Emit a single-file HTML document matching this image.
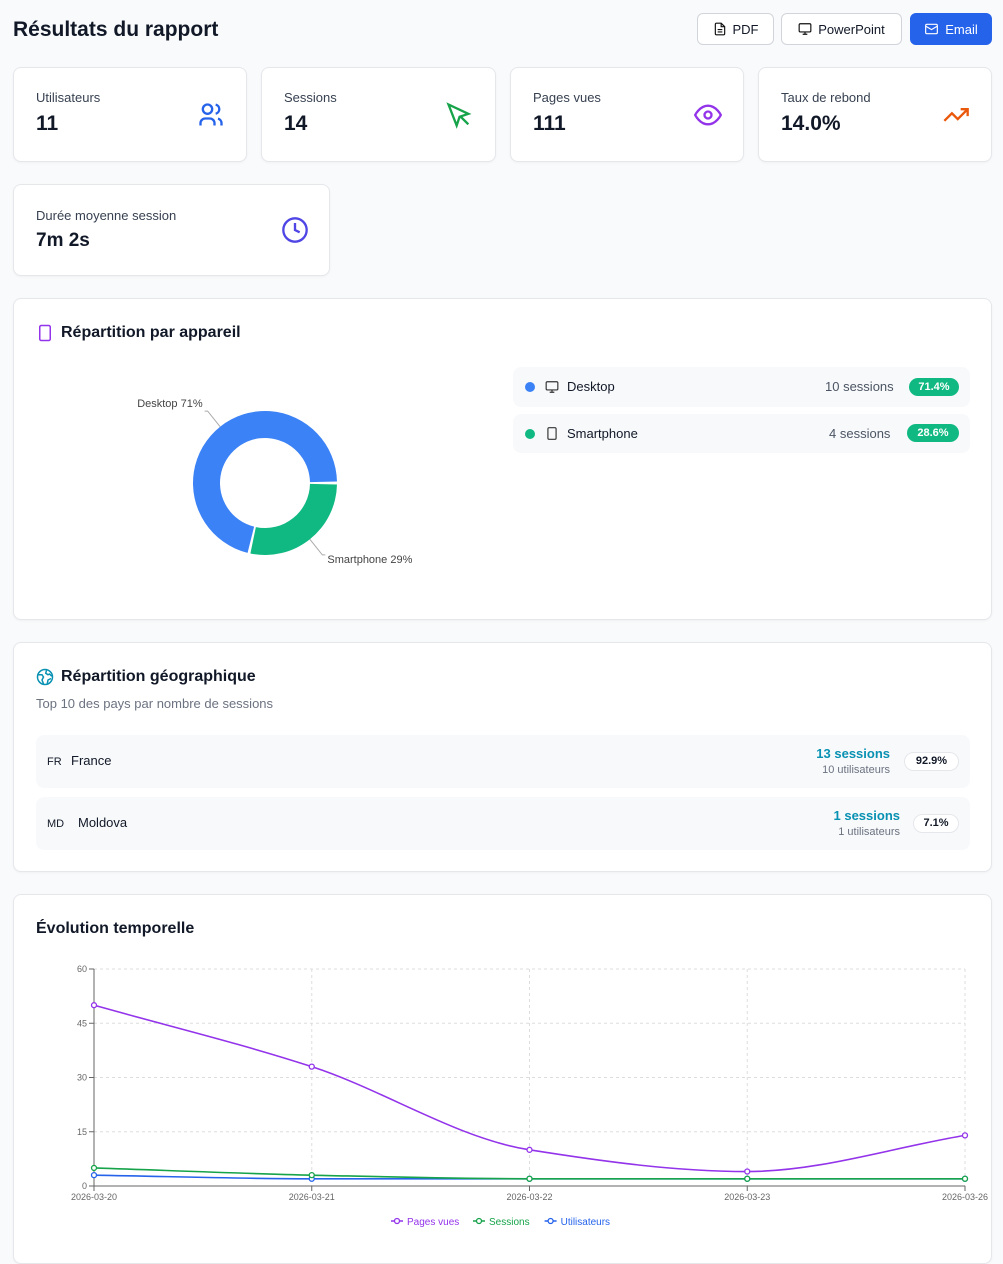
<!DOCTYPE html>
<html><head><meta charset="utf-8"><style>
*{box-sizing:border-box;margin:0;padding:0}
body{width:1003px;height:1251px;background:#f9fafb;font-family:"Liberation Sans",sans-serif;color:#111827;position:relative;overflow:hidden}
.abs{position:absolute}
.card{position:absolute;background:#fff;border:1px solid #e5e7eb;border-radius:8px;box-shadow:0 1px 2px rgba(0,0,0,.04)}
.btn{position:absolute;top:13px;height:32px;border:1px solid #d1d5db;border-radius:6px;background:#fff;font-size:13px;display:flex;align-items:center;justify-content:center;gap:6px}
.lbl{position:absolute;left:22px;top:22px;font-size:13px;color:#374151}
.val{position:absolute;left:22px;top:44px;font-size:21px;font-weight:bold}
.ico{position:absolute}
.row{position:absolute;background:#f8f9fb;border-radius:8px}
.pill{position:absolute;background:#10b981;color:#fff;font-size:11px;font-weight:bold;border-radius:10px;height:18px;line-height:18px;text-align:center}
</style></head><body>
<div class="abs" style="left:13px;top:18px;font-size:21px;font-weight:bold">Résultats du rapport</div>
<div class="btn" style="left:697px;width:77px"><svg width="14" height="14" viewBox="0 0 24 24" fill="none" stroke="#111" stroke-width="2"><path d="M14 2H6a2 2 0 0 0-2 2v16a2 2 0 0 0 2 2h12a2 2 0 0 0 2-2V8z"/><path d="M14 2v6h6M8 13h8M8 17h8"/></svg>PDF</div>
<div class="btn" style="left:781px;width:121px"><svg width="14" height="14" viewBox="0 0 24 24" fill="none" stroke="#111" stroke-width="2"><rect x="2" y="3" width="20" height="14" rx="2"/><path d="M8 21h8M12 17v4"/></svg>PowerPoint</div>
<div class="btn" style="left:910px;width:82px;background:#2563eb;border-color:#2563eb;color:#fff"><svg width="15" height="14" viewBox="0 0 24 24" fill="none" stroke="#fff" stroke-width="2"><rect x="2" y="4" width="20" height="16" rx="2"/><path d="M22 7l-10 6L2 7"/></svg>Email</div>

<div class="card" style="left:13px;top:67px;width:234px;height:95px"><div class="lbl">Utilisateurs</div><div class="val">11</div>
<svg class="ico" style="left:183px;top:33px" width="28" height="28" viewBox="0 0 24 24" fill="none" stroke="#2563eb" stroke-width="2"><circle cx="9" cy="7" r="4"/><path d="M3 21v-2a4 4 0 0 1 4-4h4a4 4 0 0 1 4 4v2M16 3.1a4 4 0 0 1 0 7.8M21 21v-2a4 4 0 0 0-3-3.9"/></svg></div>
<div class="card" style="left:261px;top:67px;width:235px;height:95px"><div class="lbl">Sessions</div><div class="val">14</div>
<svg class="ico" style="left:183px;top:33px" width="28" height="28" viewBox="0 0 24 24" fill="none" stroke="#16a34a" stroke-width="2"><path d="M3 3l7 18 2.5-7.5L20 11zM13 13l7 7"/></svg></div>
<div class="card" style="left:510px;top:67px;width:234px;height:95px"><div class="lbl">Pages vues</div><div class="val">111</div>
<svg class="ico" style="left:183px;top:33px" width="28" height="28" viewBox="0 0 24 24" fill="none" stroke="#9333ea" stroke-width="2"><path d="M1 12s4-8 11-8 11 8 11 8-4 8-11 8-11-8-11-8z"/><circle cx="12" cy="12" r="3"/></svg></div>
<div class="card" style="left:758px;top:67px;width:234px;height:95px"><div class="lbl">Taux de rebond</div><div class="val">14.0%</div>
<svg class="ico" style="left:183px;top:33px" width="28" height="28" viewBox="0 0 24 24" fill="none" stroke="#ea580c" stroke-width="2"><path d="M22 7l-8.5 8.5-5-5L2 17M16 7h6v6"/></svg></div>
<div class="card" style="left:13px;top:184px;width:317px;height:92px"><div class="lbl" style="top:23px">Durée moyenne session</div><div class="val" style="top:45px;font-size:19px">7m 2s</div>
<svg class="ico" style="left:267px;top:31px" width="28" height="28" viewBox="0 0 24 24" fill="none" stroke="#4f46e5" stroke-width="2"><circle cx="12" cy="12" r="10"/><path d="M12 6v6l4 2"/></svg></div>

<div class="card" style="left:13px;top:298px;width:979px;height:322px">
<svg class="ico" style="left:22px;top:24px" width="18" height="20" viewBox="0 0 24 24" fill="none" stroke="#9333ea" stroke-width="2"><rect x="5" y="2" width="14" height="20" rx="2"/><path d="M12 18h.01"/></svg>
<div class="abs" style="left:47px;top:25px;font-size:16px;font-weight:bold">Répartition par appareil</div>
<svg class="abs" style="left:0;top:0" width="480" height="320" id="donut"></svg>
<div class="row" style="left:499px;top:68px;width:457px;height:40px">
<div class="abs" style="left:12px;top:15px;width:10px;height:10px;border-radius:50%;background:#3b82f6"></div>
<svg class="abs" style="left:32px;top:13px" width="14" height="14" viewBox="0 0 24 24" fill="none" stroke="#333" stroke-width="2"><rect x="2" y="3" width="20" height="14" rx="2"/><path d="M8 21h8M12 17v4"/></svg>
<div class="abs" style="left:54px;top:12px;font-size:13px">Desktop</div>
<div class="abs" style="left:312px;top:12px;font-size:13px;color:#4b5563">10 sessions</div>
<div class="pill" style="left:396px;top:11px;width:50px">71.4%</div></div>
<div class="row" style="left:499px;top:115px;width:457px;height:39px">
<div class="abs" style="left:12px;top:15px;width:10px;height:10px;border-radius:50%;background:#10b981"></div>
<svg class="abs" style="left:32px;top:12px" width="14" height="15" viewBox="0 0 24 24" fill="none" stroke="#333" stroke-width="2"><rect x="5" y="2" width="14" height="20" rx="2"/><path d="M12 18h.01"/></svg>
<div class="abs" style="left:54px;top:12px;font-size:13px">Smartphone</div>
<div class="abs" style="left:316px;top:12px;font-size:13px;color:#4b5563">4 sessions</div>
<div class="pill" style="left:394px;top:10px;width:52px">28.6%</div></div>
</div>

<div class="card" style="left:13px;top:642px;width:979px;height:230px">
<svg class="ico" style="left:22px;top:25px" width="18" height="18" viewBox="0 0 24 24" fill="none" stroke="#0891b2" stroke-width="2"><circle cx="12" cy="12" r="10"/><path d="M3 9h5l2 3-2 4 2 5M14 3l-1 4 3 2 2-1 3 3M15 21l1-5 4-2"/></svg>
<div class="abs" style="left:47px;top:25px;font-size:16px;font-weight:bold">Répartition géographique</div>
<div class="abs" style="left:22px;top:53px;font-size:13px;color:#6b7280">Top 10 des pays par nombre de sessions</div>
<div class="row" style="left:22px;top:92px;width:934px;height:53px">
<div class="abs" style="left:11px;top:21px;font-size:11px">FR</div><div class="abs" style="left:35px;top:18px;font-size:13px">France</div>
<div class="abs" style="right:80px;top:11px;font-size:13px;font-weight:bold;color:#0891b2">13 sessions</div>
<div class="abs" style="right:80px;top:29px;font-size:11px;color:#6b7280">10 utilisateurs</div>
<div class="abs" style="right:11px;top:17px;width:55px;height:19px;border:1px solid #e5e7eb;border-radius:10px;background:#fff;font-size:11px;font-weight:bold;text-align:center;line-height:17px">92.9%</div></div>
<div class="row" style="left:22px;top:154px;width:934px;height:53px">
<div class="abs" style="left:11px;top:21px;font-size:11px">MD</div><div class="abs" style="left:42px;top:18px;font-size:13px">Moldova</div>
<div class="abs" style="right:70px;top:11px;font-size:13px;font-weight:bold;color:#0891b2">1 sessions</div>
<div class="abs" style="right:70px;top:29px;font-size:11px;color:#6b7280">1 utilisateurs</div>
<div class="abs" style="right:11px;top:17px;width:46px;height:19px;border:1px solid #e5e7eb;border-radius:10px;background:#fff;font-size:11px;font-weight:bold;text-align:center;line-height:17px">7.1%</div></div>
</div>

<div class="card" style="left:13px;top:894px;width:979px;height:370px">
<div class="abs" style="left:22px;top:25px;font-size:16px;font-weight:bold">Évolution temporelle</div>
</div>
<svg class="abs" style="left:0;top:0" width="1003" height="1251" id="chart"></svg>

<script>
const deviceLabels=["Desktop","Smartphone"];
const deviceValues=[10,4];
const dates=["2026-03-20","2026-03-21","2026-03-22","2026-03-23","2026-03-26"];
const pageViews=[50,33,10,4,14];
const sessions=[5,3,2,2,2];
const users=[3,2,2,2,2];
const yTicks=[0,15,30,45,60];
const NS="http://www.w3.org/2000/svg";
function mk(p,t,a){const e=document.createElementNS(NS,t);for(const k in a)e.setAttribute(k,a[k]);p.appendChild(e);return e;}
const d=document.getElementById('donut');
const cx=251,cy=184,R=72,r=45,tot=deviceValues.reduce((a,b)=>a+b,0);
const dcol=["#3b82f6","#10b981"];
let starts=[(deviceValues[1]/tot)*2*Math.PI,0];
deviceValues.forEach((v,i)=>{
 const s=starts[i]+0.02, e=starts[i]+v/tot*2*Math.PI-0.02;
 const p=(ang,rad)=>[cx+rad*Math.cos(ang),cy+rad*Math.sin(ang)];
 const [x1,y1]=p(s,R),[x2,y2]=p(e,R),[x3,y3]=p(e,r),[x4,y4]=p(s,r);
 const lg=(e-s)>Math.PI?1:0;
 const path=mk(d,'path',{d:`M${x1},${y1}A${R},${R} 0 ${lg} 1 ${x2},${y2}L${x3},${y3}A${r},${r} 0 ${lg} 0 ${x4},${y4}Z`,fill:dcol[i]});
 
 
 const mid=(s+e)/2;const [lx,ly]=p(mid,R);const [ox,oy]=p(mid,R+20);
 const dir=Math.cos(mid)>0?1:-1;
 mk(d,'polyline',{points:`${lx},${ly} ${ox},${oy} ${ox+dir*3},${oy}`,fill:'none',stroke:'#aaa'});
 const t=mk(d,'text',{x:ox+dir*5,y:oy-4+(dir>0?12:0),'font-size':11,fill:'#444','text-anchor':dir>0?'start':'end','font-family':'Liberation Sans'});
 t.textContent=deviceLabels[i]+' '+Math.round(v/tot*100)+'%';
 
 
});
const c=document.getElementById('chart');
const X0=94,X1=965,Y0=1186,Y1=969;
const xs=i=>X0+(X1-X0)*i/(dates.length-1);
const ys=v=>Y0-(Y0-Y1)*v/60;
yTicks.forEach(t=>{
 mk(c,'line',{x1:X0,x2:X1,y1:ys(t),y2:ys(t),stroke:'#ddd','stroke-dasharray':'3 3'});
 mk(c,'line',{x1:X0-5,x2:X0,y1:ys(t),y2:ys(t),stroke:'#666'});
 const tx=mk(c,'text',{x:X0-7,y:ys(t)+3,'font-size':9,fill:'#666','text-anchor':'end','font-family':'Liberation Sans'});tx.textContent=t;
 
 
});
dates.forEach((dt,i)=>{
 mk(c,'line',{x1:xs(i),x2:xs(i),y1:Y1,y2:Y0,stroke:'#ddd','stroke-dasharray':'3 3'});
 mk(c,'line',{x1:xs(i),x2:xs(i),y1:Y0,y2:Y0+5,stroke:'#666'});
 const tx=mk(c,'text',{x:xs(i),y:Y0+14,'font-size':9,fill:'#666','text-anchor':'middle','font-family':'Liberation Sans'});tx.textContent=dt;
 
 
});
mk(c,'line',{x1:X0,x2:X0,y1:Y1,y2:Y0,stroke:'#666'});
mk(c,'line',{x1:X0,x2:X1,y1:Y0,y2:Y0,stroke:'#666'});
function mono(pts){
 const n=pts.length;const dx=[],m=[],t=[];
 for(let i=0;i<n-1;i++){dx[i]=pts[i+1][0]-pts[i][0];m[i]=(pts[i+1][1]-pts[i][1])/dx[i];}
 t[0]=m[0];t[n-1]=m[n-2];
 for(let i=1;i<n-1;i++)t[i]=(m[i-1]*m[i]<=0)?0:3*(dx[i-1]+dx[i])/((2*dx[i]+dx[i-1])/m[i-1]+(dx[i]+2*dx[i-1])/m[i]);
 let s=`M${pts[0][0]},${pts[0][1]}`;
 for(let i=0;i<n-1;i++){const h=dx[i]/3;s+=`C${pts[i][0]+h},${pts[i][1]+t[i]*h} ${pts[i+1][0]-h},${pts[i+1][1]-t[i+1]*h} ${pts[i+1][0]},${pts[i+1][1]}`;}
 return s;
}
const series=[["Pages vues",pageViews,"#9333ea"],["Sessions",sessions,"#16a34a"],["Utilisateurs",users,"#2563eb"]];
series.slice().reverse().forEach(([n,vals,col])=>{
 const pts=vals.map((v,i)=>[xs(i),ys(v)]);
 const ln=mk(c,'path',{d:mono(pts),fill:'none',stroke:col,'stroke-width':1.6});
 
 
 pts.forEach(p=>{const dot=mk(c,'circle',{cx:p[0],cy:p[1],r:2.5,fill:'#fff',stroke:col,'stroke-width':1.3});
 
 });
});
let lx=391;
series.forEach(([n,vals,col])=>{
 mk(c,'line',{x1:lx,x2:lx+12,y1:1221,y2:1221,stroke:col,'stroke-width':1.5});
 mk(c,'circle',{cx:lx+6,cy:1221,r:2.5,fill:'#fff',stroke:col,'stroke-width':1.3});
 const tx=mk(c,'text',{x:lx+16,y:1225,'font-size':10,fill:col,'font-family':'Liberation Sans'});tx.textContent=n;
 
 
 lx+=16+n.length*5.2+14;
});
</script>
</body></html>
